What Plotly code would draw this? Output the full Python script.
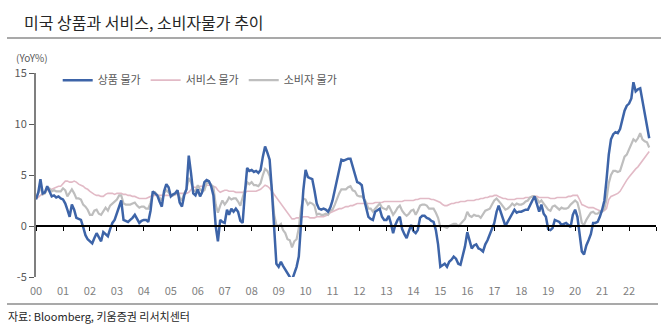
import pandas as pd
import plotly.graph_objects as go

# Monthly YoY (%) Jan 2000 - Oct 2022
goods = [
    2.6, 3.3, 4.6, 3.2, 3.3, 3.9, 3.4, 2.9, 3.0, 2.8, 2.9, 2.7,   # 2000
    2.6, 2.2, 1.6, 0.9, 2.1, 1.6, 0.8, 0.7, 0.6, -0.1, -0.9, -1.3,  # 2001
    -1.5, -1.7, -1.2, -0.7, -1.1, -1.5, -0.6, -0.8, -1.0, -0.3, 0.3, 0.6,  # 2002
    1.2, 1.9, 2.5, 0.6, 0.5, 0.4, 0.6, 0.8, 1.1, 0.7, 0.3, 0.5,   # 2003
    0.6, 0.6, 0.4, 1.5, 3.4, 3.2, 3.0, 2.4, 1.9, 3.4, 4.1, 3.8,   # 2004
    2.9, 3.1, 3.2, 3.5, 2.3, 1.9, 3.0, 3.6, 6.9, 5.2, 3.2, 3.0,   # 2005
    3.6, 2.9, 3.3, 4.3, 4.5, 4.4, 3.9, 3.0, 0.0, -1.5, 0.6, 0.4,  # 2006
    0.3, 1.6, 1.1, 1.7, 1.4, 1.7, 1.4, 0.5, 0.3, 3.2, 5.7, 5.4,   # 2007
    5.5, 5.3, 5.4, 5.2, 5.5, 6.8, 7.8, 7.2, 6.5, 3.5, -0.5, -3.7,  # 2008
    -4.0, -3.5, -3.9, -4.3, -4.7, -5.0, -5.3, -4.6, -4.0, -3.0, 0.2, 3.5,  # 2009
    5.5, 4.8, 4.7, 4.6, 3.5, 2.2, 1.7, 1.6, 1.7, 1.6, 1.4, 1.8,   # 2010
    2.5, 3.5, 4.7, 5.6, 6.5, 6.4, 6.5, 6.6, 6.6, 5.8, 5.2, 4.3,   # 2011
    4.2, 4.0, 2.7, 1.8, 0.9, 0.7, 0.6, 1.4, 1.6, 1.7, 0.9, 0.6,   # 2012
    0.6, 1.0, 0.3, -0.7, 0.1, 0.6, 0.9, -0.3, -0.8, -1.2, -0.5, 0.1,  # 2013
    -0.5, -0.7, -0.4, 0.8, 1.0, 1.0, 0.8, 0.7, 0.5, 0.4, -0.4, -1.8,  # 2014
    -4.0, -3.8, -3.7, -4.0, -3.5, -3.3, -3.0, -3.2, -3.7, -3.8, -2.8, -2.0,  # 2015
    -0.6, -1.5, -2.2, -1.9, -1.8, -2.2, -2.3, -2.5, -1.8, -1.4, -0.8, -0.4,  # 2016
    0.3, 1.4, 2.0, 1.3, 0.7, 0.0, 0.4, 0.8, 1.3, 1.6, 1.3, 1.4,   # 2017
    1.4, 1.5, 1.6, 1.6, 2.1, 2.5, 2.9, 2.0, 1.4, 2.1, 1.2, 0.9,   # 2018
    -0.3, -0.4, -0.2, 0.6, 0.5, 0.4, 0.1, 0.2, 0.3, 0.1, -0.1, 1.1,  # 2019
    1.6, 0.9, -0.7, -2.5, -2.8, -1.9, -1.4, -0.8, 0.3, 0.3, 0.4, 0.9,  # 2020
    1.6, 2.5, 4.5, 7.0, 8.5, 9.0, 9.2, 9.1, 9.5, 10.4, 11.3, 11.8,  # 2021
    12.0, 12.5, 14.1, 13.2, 13.4, 13.5, 12.3, 11.0, 9.8, 8.6,      # 2022
]

services = [
    2.7, 2.8, 3.0, 3.2, 3.3, 3.5, 3.6, 3.6, 3.7, 3.8, 3.9, 3.9,   # 2000
    4.2, 4.4, 4.4, 4.3, 4.3, 4.4, 4.3, 4.1, 4.0, 3.9, 3.7, 3.6,   # 2001
    3.4, 3.2, 3.1, 3.0, 3.0, 2.9, 2.9, 3.1, 3.2, 3.2, 3.2, 3.1,   # 2002
    3.2, 3.2, 3.2, 3.1, 3.1, 3.0, 3.0, 2.9, 2.9, 2.8, 2.7, 2.7,   # 2003
    2.7, 2.7, 2.8, 2.9, 3.0, 3.0, 3.0, 3.0, 3.0, 3.0, 3.0, 3.0,   # 2004
    3.0, 3.0, 3.1, 3.1, 3.2, 3.2, 3.2, 3.2, 3.3, 3.6, 3.8, 3.8,   # 2005
    3.8, 3.9, 3.9, 3.9, 4.0, 4.0, 4.0, 3.9, 3.8, 3.5, 3.3, 3.4,   # 2006
    3.5, 3.5, 3.4, 3.4, 3.4, 3.3, 3.3, 3.3, 3.3, 3.3, 3.4, 3.4,   # 2007
    3.4, 3.4, 3.4, 3.5, 3.6, 3.8, 4.0, 3.9, 3.7, 3.4, 3.1, 2.8,   # 2008
    2.5, 2.2, 1.9, 1.6, 1.3, 1.0, 0.7, 0.7, 0.8, 0.8, 0.8, 0.9,   # 2009
    0.9, 0.9, 0.8, 0.8, 0.8, 0.9, 0.9, 0.9, 0.9, 1.0, 1.1, 1.3,   # 2010
    1.4, 1.5, 1.6, 1.7, 1.7, 1.8, 1.9, 1.9, 2.0, 2.0, 2.1, 2.2,   # 2011
    2.2, 2.2, 2.2, 2.2, 2.2, 2.2, 2.2, 2.3, 2.3, 2.3, 2.3, 2.4,   # 2012
    2.4, 2.4, 2.4, 2.4, 2.4, 2.4, 2.4, 2.4, 2.5, 2.5, 2.5, 2.5,   # 2013
    2.5, 2.6, 2.6, 2.7, 2.7, 2.7, 2.7, 2.7, 2.6, 2.6, 2.5, 2.4,   # 2014
    2.3, 2.1, 2.0, 2.0, 2.1, 2.2, 2.2, 2.3, 2.3, 2.4, 2.4, 2.4,   # 2015
    2.5, 2.5, 2.5, 2.5, 2.6, 2.6, 2.7, 2.7, 2.8, 2.8, 2.9, 2.9,   # 2016
    3.0, 3.0, 2.9, 2.8, 2.7, 2.7, 2.6, 2.6, 2.6, 2.6, 2.7, 2.7,   # 2017
    2.7, 2.7, 2.8, 2.8, 2.8, 2.9, 2.9, 2.9, 2.8, 2.8, 2.8, 2.8,   # 2018
    2.8, 2.7, 2.7, 2.7, 2.8, 2.8, 2.8, 2.8, 2.8, 2.9, 2.9, 3.0,   # 2019
    3.0, 3.0, 2.6, 2.1, 2.0, 1.9, 1.8, 1.8, 1.8, 1.7, 1.6, 1.5,   # 2020
    1.4, 1.5, 1.7, 2.6, 2.9, 3.0, 3.1, 3.2, 3.4, 3.8, 4.2, 4.5,   # 2021
    4.8, 5.1, 5.3, 5.6, 5.8, 6.1, 6.3, 6.6, 7.0, 7.3,             # 2022
]

cpi = [
    2.7, 3.2, 3.8, 3.1, 3.2, 3.7, 3.7, 3.4, 3.5, 3.4, 3.4, 3.4,   # 2000
    3.7, 3.5, 2.9, 3.3, 3.6, 3.2, 2.7, 2.7, 2.6, 2.1, 1.9, 1.6,   # 2001
    1.1, 1.1, 1.5, 1.6, 1.2, 1.1, 1.5, 1.8, 1.5, 2.0, 2.2, 2.4,   # 2002
    2.6, 3.0, 3.0, 2.2, 2.1, 2.1, 2.1, 2.2, 2.3, 2.0, 1.8, 1.9,   # 2003
    1.9, 1.7, 1.7, 2.3, 3.1, 3.3, 3.0, 2.7, 2.5, 3.2, 3.5, 3.3,   # 2004
    3.0, 3.0, 3.1, 3.5, 2.8, 2.5, 3.2, 3.6, 4.7, 4.3, 3.5, 3.4,   # 2005
    4.0, 3.6, 3.4, 3.5, 4.2, 4.3, 4.1, 3.8, 2.1, 1.3, 2.0, 2.5,   # 2006
    2.1, 2.4, 2.8, 2.6, 2.7, 2.7, 2.4, 2.0, 2.8, 3.5, 4.3, 4.1,   # 2007
    4.3, 4.0, 4.0, 3.9, 4.2, 5.0, 5.6, 5.4, 4.9, 3.7, 1.1, 0.1,   # 2008
    0.0, 0.2, -0.4, -0.7, -1.3, -1.4, -2.1, -1.5, -1.3, -0.2, 1.8, 2.7,  # 2009
    2.6, 2.1, 2.3, 2.2, 2.0, 1.1, 1.2, 1.1, 1.1, 1.2, 1.1, 1.5,   # 2010
    1.6, 2.1, 2.7, 3.2, 3.6, 3.6, 3.6, 3.8, 3.9, 3.5, 3.4, 3.0,   # 2011
    2.9, 2.9, 2.7, 2.3, 1.7, 1.7, 1.4, 1.7, 2.0, 2.2, 1.8, 1.7,   # 2012
    1.6, 2.0, 1.5, 1.1, 1.4, 1.8, 2.0, 1.5, 1.2, 1.0, 1.2, 1.5,   # 2013
    1.6, 1.1, 1.5, 2.0, 2.1, 2.1, 2.0, 1.7, 1.7, 1.7, 1.3, 0.8,   # 2014
    -0.1, 0.0, -0.1, -0.2, 0.0, 0.1, 0.2, 0.2, 0.0, 0.2, 0.5, 0.7,  # 2015
    1.4, 1.0, 0.9, 1.1, 1.0, 1.0, 0.8, 1.1, 1.5, 1.6, 1.7, 2.1,   # 2016
    2.5, 2.7, 2.4, 2.2, 1.9, 1.6, 1.7, 1.9, 2.2, 2.0, 2.2, 2.1,   # 2017
    2.1, 2.2, 2.4, 2.5, 2.8, 2.9, 2.9, 2.7, 2.3, 2.5, 2.2, 1.9,   # 2018
    1.6, 1.5, 1.9, 2.0, 1.8, 1.6, 1.8, 1.7, 1.7, 1.8, 2.1, 2.3,   # 2019
    2.5, 2.3, 1.5, 0.3, 0.1, 0.6, 1.0, 1.3, 1.4, 1.2, 1.2, 1.4,   # 2020
    1.4, 1.7, 2.6, 4.2, 5.0, 5.4, 5.4, 5.3, 5.4, 6.2, 6.8, 7.0,   # 2021
    7.5, 7.9, 8.5, 8.3, 8.6, 9.1, 8.5, 8.3, 8.2, 7.7,             # 2022
]

series_names = ["상품 물가", "서비스 물가", "소비자 물가"]
years = list(range(2000, 2024))
year_labels = [f"{y % 100:02d}" for y in years[:-1]]
y_ticks = [-5, 0, 5, 10, 15]

dates = pd.date_range("2000-01-01", periods=len(goods), freq="MS")
year_dates = [pd.Timestamp(f"{y}-01-01") for y in years]

FONT = "Noto Sans CJK KR"

fig = go.Figure()
fig.add_trace(go.Scatter(x=dates, y=goods, name=series_names[0], mode="lines",
                         line=dict(color="#3D64A8", width=2.5)))
fig.add_trace(go.Scatter(x=dates, y=services, name=series_names[1], mode="lines",
                         line=dict(color="#E2BAC6", width=1.6)))
fig.add_trace(go.Scatter(x=dates, y=cpi, name=series_names[2], mode="lines",
                         line=dict(color="#BEBEBE", width=2.2)))
# reorder draw: services & cpi under goods
fig.data = (fig.data[1], fig.data[2], fig.data[0])

xrange = [year_dates[0], year_dates[-1]]

fig.update_layout(
    width=670, height=332,
    margin=dict(l=36, r=14, t=73, b=55),
    paper_bgcolor="white", plot_bgcolor="white",
    font=dict(family=FONT, size=11, color="#595959"),
    showlegend=True,
    legend=dict(orientation="h", x=0.035, y=0.965, xanchor="left", yanchor="middle",
                font=dict(family=FONT, size=11, color="#595959"),
                bgcolor="rgba(0,0,0,0)", itemwidth=30,
                traceorder="normal"),
    xaxis=dict(type="date", range=xrange, tickvals=year_dates[:-1], ticktext=year_labels,
               showline=False, ticks="", showgrid=False, zeroline=False,
               tickfont=dict(family=FONT, size=11, color="#7f7f7f"), ticklabelstandoff=6),
    xaxis2=dict(type="date", range=xrange, overlaying="x", anchor="free", position=0.25,
                tickvals=year_dates, showticklabels=False, ticks="outside", ticklen=4,
                tickcolor="#000000", tickwidth=1,
                showline=True, linecolor="#000000", linewidth=1.5, showgrid=False, zeroline=False),
    yaxis=dict(range=[-5, 15], tickvals=y_ticks, ticktext=[str(v) for v in y_ticks],
               showline=True, linecolor="#7f7f7f", linewidth=2, ticks="outside", ticklen=5,
               tickcolor="#595959", showgrid=False, zeroline=False,
               tickfont=dict(family=FONT, size=11, color="#595959")),
)

# invisible trace to register xaxis2
fig.add_trace(go.Scatter(x=[year_dates[0]], y=[0], xaxis="x2", mode="markers",
                         marker=dict(opacity=0), showlegend=False, hoverinfo="skip"))
# legend order: goods, services, cpi
fig.data[2].legendrank = 1
fig.data[0].legendrank = 2
fig.data[1].legendrank = 3

fig.add_annotation(text="미국 상품과 서비스, 소비자물가 추이", xref="paper", yref="paper",
                   x=-36/620, y=1 + (73 - 22)/204, xanchor="left", yanchor="middle",
                   showarrow=False, font=dict(family=FONT, size=16, color="#262626"),
                   xshift=22)
fig.add_annotation(text="(YoY%)", xref="paper", yref="paper",
                   x=-36/620, y=1 + (73 - 57)/204, xanchor="left", yanchor="middle",
                   showarrow=False, font=dict(family=FONT, size=10, color="#595959"),
                   xshift=14)
fig.add_annotation(text="자료: Bloomberg, 키움증권 리서치센터", xref="paper", yref="paper",
                   x=-36/620, y=-(316 - 277)/204, xanchor="left", yanchor="middle",
                   showarrow=False, font=dict(family=FONT, size=11, color="#262626"),
                   xshift=6)
# rules under title and above source
fig.add_shape(type="line", xref="paper", yref="paper", x0=-29/620, x1=1 + 5/620,
              y0=1 + (73 - 38)/204, y1=1 + (73 - 38)/204, line=dict(color="#8c8c8c", width=1.5))
fig.add_shape(type="line", xref="paper", yref="paper", x0=-29/620, x1=1 + 2/620,
              y0=-(304 - 277)/204, y1=-(304 - 277)/204, line=dict(color="#8c8c8c", width=1.5))

fig.write_html("out.html")
